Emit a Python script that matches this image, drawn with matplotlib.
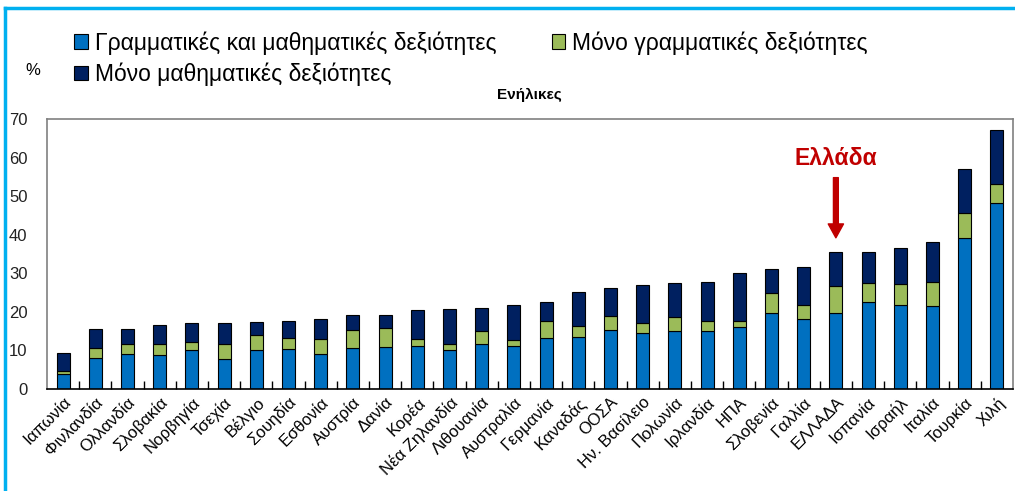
import numpy as np
import matplotlib
matplotlib.use("Agg")
import matplotlib.pyplot as plt
from matplotlib.lines import Line2D

plt.rcParams["font.family"] = ["Liberation Sans", "DejaVu Sans"]

countries = ["Ιαπωνία", "Φινλανδία", "Ολλανδία", "Σλοβακία", "Νορβηγία", "Τσεχία",
             "Βέλγιο", "Σουηδία", "Εσθονία", "Αυστρία", "Δανία", "Κορέα",
             "Νέα Ζηλανδία", "Λιθουανία", "Αυστραλία", "Γερμανία", "Καναδάς", "ΟΟΣΑ",
             "Ην. Βασίλειο", "Πολωνία", "Ιρλανδία", "ΗΠΑ", "Σλοβενία", "Γαλλία",
             "ΕΛΛΑΔΑ", "Ισπανία", "Ισραήλ", "Ιταλία", "Τουρκία", "Χιλή"]

# both skills
both = [4.0, 8.0, 9.2, 8.9, 10.1, 7.8, 10.1, 10.4, 9.2, 10.6, 11.0, 11.2,
        10.1, 11.6, 11.2, 13.3, 13.5, 15.4, 14.4, 15.0, 15.0, 16.1, 19.7, 18.2,
        19.7, 22.6, 21.7, 21.4, 39.1, 48.3]
# literacy only
literacy = [0.8, 2.6, 2.5, 2.8, 2.2, 3.9, 4.0, 2.8, 3.7, 4.7, 4.8, 1.7,
            1.7, 3.4, 1.5, 4.3, 2.9, 3.6, 2.6, 3.7, 2.6, 1.5, 5.2, 3.5,
            6.9, 4.8, 5.5, 6.4, 6.5, 4.9]
# numeracy only
numeracy = [4.5, 4.9, 3.8, 4.8, 4.8, 5.4, 3.3, 4.5, 5.3, 3.8, 3.3, 7.6,
            9.0, 6.1, 9.0, 4.9, 8.7, 7.3, 9.9, 8.8, 10.2, 12.5, 6.3, 9.9,
            9.0, 8.2, 9.3, 10.4, 11.4, 13.9]

legend_labels = ["Γραμματικές και μαθηματικές δεξιότητες",
                 "Μόνο γραμματικές δεξιότητες",
                 "Μόνο μαθηματικές δεξιότητες"]
colors = ["#0070C0", "#9BBB59", "#002060"]

fig = plt.figure(figsize=(10.15, 4.91), dpi=100)
ax = fig.add_axes([0.0463, 0.2077, 0.9517, 0.5499])

x = np.arange(len(countries))
both = np.array(both)
literacy = np.array(literacy)
numeracy = np.array(numeracy)
w = 0.4
b1 = ax.bar(x, both, w, color=colors[0], edgecolor="black", linewidth=0.8)
b2 = ax.bar(x, literacy, w, bottom=both, color=colors[1], edgecolor="black", linewidth=0.8)
b3 = ax.bar(x, numeracy, w, bottom=both + literacy, color=colors[2], edgecolor="black", linewidth=0.8)

ax.set_xlim(-0.5, len(countries) - 0.5)
ax.set_ylim(0, 70)
ax.set_yticks(range(0, 71, 10))
ax.tick_params(axis="y", length=0, pad=14, labelsize=12, labelcolor="#222222")
ax.set_xticks(x)
ax.set_xticklabels(countries, rotation=45, ha="right", rotation_mode="anchor", fontsize=12)
ax.tick_params(axis="x", which="major", length=0, pad=4)
ax.set_xticks(np.arange(0.5, len(countries) - 1, 1), minor=True)
ax.tick_params(axis="x", which="minor", direction="in", length=6, width=1, color="black")

for s in ["top", "left", "right"]:
    ax.spines[s].set_color("#808080")
    ax.spines[s].set_linewidth(1.2)
ax.spines["bottom"].set_color("black")
ax.spines["bottom"].set_linewidth(1.2)

# arrow pointing at Greece
gi = countries.index("ΕΛΛΑΔΑ")
ax.annotate("", xy=(gi, 39.2), xytext=(gi, 54.8),
            arrowprops=dict(arrowstyle="simple,head_width=1.1,head_length=1.0,tail_width=0.35",
                            color="#C00000", shrinkA=0, shrinkB=0))
ax.text(gi, 59.8, "Ελλάδα", color="#C00000", fontsize=16.5, fontweight="bold",
        ha="center", va="center")

fig.legend([b1, b3, b2], [legend_labels[0], legend_labels[2], legend_labels[1]],
           ncol=2, loc="upper left", bbox_to_anchor=(0.062, 0.960), frameon=False,
           fontsize=16.5, handlelength=0.6, handleheight=0.6, handletextpad=0.3,
           columnspacing=2.4, labelspacing=0.35, borderpad=0)

fig.text(0.032, 0.857, "%", fontsize=12, ha="center", va="center")
fig.text(0.522, 0.806, "Ενήλικες", fontsize=11, fontweight="bold", ha="center", va="center")

# light blue frame lines at top and left of the figure
fig.add_artist(Line2D([0.005, 1.0], [0.984, 0.984], color="#00B0F0", linewidth=2.5,
                      transform=fig.transFigure))
fig.add_artist(Line2D([0.005, 0.005], [0.0, 0.984], color="#00B0F0", linewidth=2.5,
                      transform=fig.transFigure))

fig.savefig("out.png", dpi=100)
